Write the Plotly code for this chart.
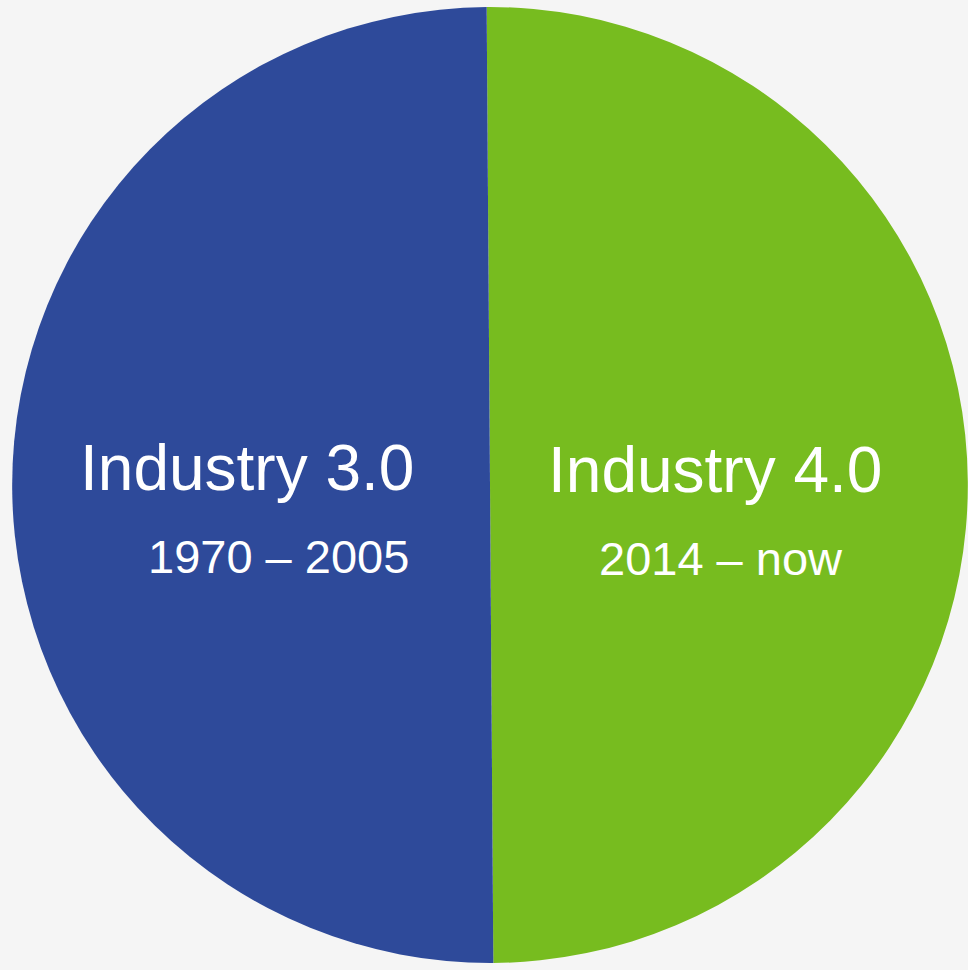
import plotly.graph_objects as go

# Data
labels = ["Industry 4.0", "Industry 3.0"]
periods = ["2014 – now", "1970 – 2005"]
values = [50, 50]
colors = ["#77BC1F", "#2E4A9A"]

W, H = 968, 970

fig = go.Figure()
fig.add_trace(go.Pie(
    labels=labels,
    values=values,
    sort=False,
    direction="clockwise",
    rotation=-0.4,
    marker=dict(colors=colors, line=dict(width=0)),
    textinfo="none",
    hoverinfo="label",
    showlegend=False,
    domain=dict(x=[12 / W, 1.0], y=[0.0, 1.0]),
))

font_family = "Arial, Liberation Sans, sans-serif"
# title label positions (pixel coords) for each slice
title_pos = {"Industry 3.0": (246.5, 468), "Industry 4.0": (714.5, 470)}
period_pos = {"Industry 3.0": (278, 556), "Industry 4.0": (721, 558)}

for lab, per in zip(labels, periods):
    tx, ty = title_pos[lab]
    px, py = period_pos[lab]
    fig.add_annotation(x=tx / W, y=1 - ty / H, xref="paper", yref="paper",
                       text=lab, showarrow=False, xanchor="center", yanchor="middle",
                       font=dict(family=font_family, size=64, color="white"))
    fig.add_annotation(x=px / W, y=1 - py / H, xref="paper", yref="paper",
                       text=per, showarrow=False, xanchor="center", yanchor="middle",
                       font=dict(family=font_family, size=47, color="white"))

fig.update_layout(
    width=W, height=H,
    margin=dict(l=0, r=0, t=0, b=0),
    paper_bgcolor="#f5f5f5",
    plot_bgcolor="#f5f5f5",
)

fig.write_html("out.html")
